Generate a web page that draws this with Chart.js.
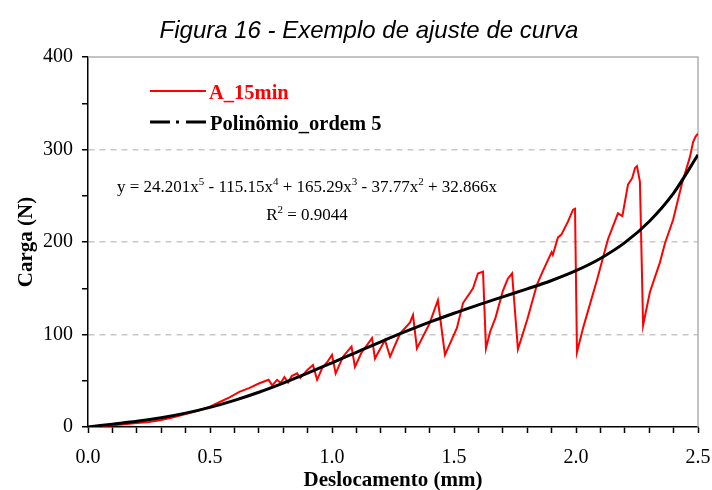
<!DOCTYPE html>
<html><head><meta charset="utf-8">
<script src="https://cdn.jsdelivr.net/npm/chart.js@4"></script>
<style>
html,body{margin:0;padding:0;background:#fff;}
#wrap{position:relative;width:712px;height:490px;overflow:hidden;}
canvas{position:absolute;left:0;top:0;}
.t{position:absolute;white-space:nowrap;color:#000;}
#title{left:0;width:738px;top:15px;text-align:center;font:italic 24px "Liberation Sans",Arial,sans-serif;line-height:30px;}
#eq{left:107px;width:400px;top:173px;text-align:center;font:17px "Liberation Serif","Times New Roman",serif;line-height:28px;}
#eq sup{font-size:11px;vertical-align:7px;line-height:0;}
.lg{font:bold 20.5px "Liberation Serif","Times New Roman",serif;line-height:24px;}
</style></head>
<body>
<div id="wrap">
<canvas id="c" width="712" height="490"></canvas>
<div class="t" id="title">Figura 16 - Exemplo de ajuste de curva</div>
<div class="t lg" id="lg1" style="left:209px;top:80px;color:#ff0000;">A_15min</div>
<div class="t lg" id="lg2" style="left:210px;top:111px;">Polinômio_ordem 5</div>
<div class="t" id="eq">y = 24.201x<sup>5</sup> - 115.15x<sup>4</sup> + 165.29x<sup>3</sup> - 37.77x<sup>2</sup> + 32.866x<br>R<sup>2</sup> = 0.9044</div>
</div>
<script>
// ---- data ----
const redX = [0,0.05,0.10,0.15,0.20,0.25,0.30,0.35,0.40,0.45,0.50,0.54,0.58,0.62,0.66,0.70,0.74,0.755,0.775,0.79,0.805,0.82,0.835,0.857,0.87,0.90,0.922,0.939,0.96,0.98,1.00,1.015,1.045,1.08,1.094,1.12,1.164,1.176,1.217,1.238,1.279,1.32,1.332,1.348,1.40,1.434,1.463,1.512,1.537,1.578,1.598,1.619,1.631,1.648,1.67,1.70,1.72,1.738,1.762,1.80,1.84,1.865,1.90,1.905,1.926,1.94,1.967,1.988,1.996,2.004,2.03,2.086,2.131,2.147,2.172,2.19,2.213,2.23,2.242,2.25,2.262,2.275,2.303,2.344,2.365,2.398,2.434,2.467,2.48,2.49,2.50];
const redY = [0,0.8,2,3,4.2,5.5,7.5,10.5,14,17.5,22,27,32,38,42,47,51,45,51,47.5,54,48,55,58,53,62,67,51,64,70,78,58,76,87,65,80,96,74,94,76,101,113,121,85,112,137,78,107,134,150,166,168,85,103,118,147,160,166,84,116,154,169,189,186,205,208,222,235,236,81,108,159,203,214,231,228,262,269,280,282,265,110,146,178,199,224,263,292,308,314,317];
const fitX = [0,0.1,0.2,0.3,0.4,0.5,0.6,0.7,0.8,0.9,1.0,1.1,1.2,1.3,1.4,1.5,1.6,1.7,1.8,1.9,2.0,2.1,2.2,2.3,2.4,2.5];
const fitY = [0,3.1,6.2,10.1,15.0,21.2,28.8,37.6,47.5,58.2,69.4,80.8,92.1,103.0,113.3,123.0,132.0,140.7,149.3,158.4,169.0,182.2,199.3,222.2,252.9,294.3];
const xTickLabels = ['0.0','0.5','1.0','1.5','2.0','2.5'];
const yTickLabels = ['0','100','200','300','400'];
const seriesNames = ['A_15min','Polinômio_ordem 5'];

const redPts = redX.map((x,i)=>({x:x,y:redY[i]}));
const fitPts = fitX.map((x,i)=>({x:x,y:fitY[i]}));

const deco = {
  id:'deco',
  beforeDatasetsDraw(chart){
    const {ctx, chartArea:a} = chart;
    ctx.save();
    ctx.strokeStyle = '#b0b0b0'; ctx.lineWidth = 1.5;
    ctx.beginPath(); ctx.moveTo(a.left, a.top); ctx.lineTo(a.right, a.top); ctx.lineTo(a.right, a.bottom); ctx.stroke();
    ctx.restore();
  },
  afterDatasetsDraw(chart){
    const {ctx, chartArea:a} = chart;
    ctx.save();
    ctx.lineCap = 'butt';
    ctx.strokeStyle = '#ff0000'; ctx.lineWidth = 2;
    ctx.beginPath(); ctx.moveTo(a.left+62, a.top+34); ctx.lineTo(a.left+118, a.top+34); ctx.stroke();
    ctx.strokeStyle = '#000'; ctx.lineWidth = 3;
    ctx.setLineDash([20,6,3,7]);
    ctx.beginPath(); ctx.moveTo(a.left+62, a.top+65); ctx.lineTo(a.left+118, a.top+65); ctx.stroke();
    ctx.restore();
  }
};

const serif = '"Liberation Serif","Times New Roman",serif';
new Chart(document.getElementById('c'), {
  type: 'scatter',
  data: { datasets: [
    { label: seriesNames[0], data: redPts, showLine: true, borderColor: '#ff0000', borderWidth: 2, pointRadius: 0, tension: 0, order: 2 },
    { label: seriesNames[1], data: fitPts, showLine: true, borderColor: '#000000', borderWidth: 3, pointRadius: 0, cubicInterpolationMode: 'monotone', order: 1 }
  ]},
  options: {
    responsive: false, animation: false, devicePixelRatio: 1,
    layout: { padding: { left: 0, right: 14, top: 57, bottom: 0 } },
    plugins: { legend: { display: false }, tooltip: { enabled: false }, title: { display: false } },
    scales: {
      x: {
        type: 'linear', min: 0, max: 2.5,
        afterFit: s => { s.height = 63; s.paddingLeft = 0; s.paddingRight = 0; },
        border: { color: '#000', width: 1.5 },
        grid: { drawOnChartArea: false, drawTicks: true, tickLength: 6, tickColor: '#000', tickWidth: 1.5 },
        ticks: { stepSize: 0.1, autoSkip: false, maxRotation: 0, padding: 13, color: '#000',
          font: { family: serif, size: 20 },
          callback: v => { const k = Math.round(v*10); return k % 5 === 0 ? xTickLabels[k/5] : ''; } },
        title: { display: true, text: 'Deslocamento (mm)', color: '#000', padding: { top: 0, bottom: 0 },
          font: { family: serif, size: 21, weight: 'bold', lineHeight: 0.85 } }
      },
      y: {
        min: 0, max: 400,
        afterFit: s => { s.width = 88; s.paddingTop = 0; s.paddingBottom = 0; },
        border: { color: '#000', width: 1.5, dash: [6,5] },
        grid: { drawOnChartArea: true, drawTicks: true, tickLength: 6, tickColor: '#000', tickWidth: 1.5, lineWidth: 1.5,
          color: c => { const v = c.tick ? c.tick.value : -1; return (v % 100 === 0 && v > 0 && v < 400) ? '#c8c8c8' : 'rgba(0,0,0,0)'; } },
        ticks: { stepSize: 50, autoSkip: false, padding: 9, color: '#000',
          font: { family: serif, size: 20 },
          callback: v => (v % 100 === 0 ? yTickLabels[v/100] : '') },
        title: { display: true, text: 'Carga (N)', color: '#000', padding: { top: 16, bottom: 0 },
          font: { family: serif, size: 21, weight: 'bold', lineHeight: 1 } }
      }
    }
  },
  plugins: [deco]
});
</script>
</body></html>
